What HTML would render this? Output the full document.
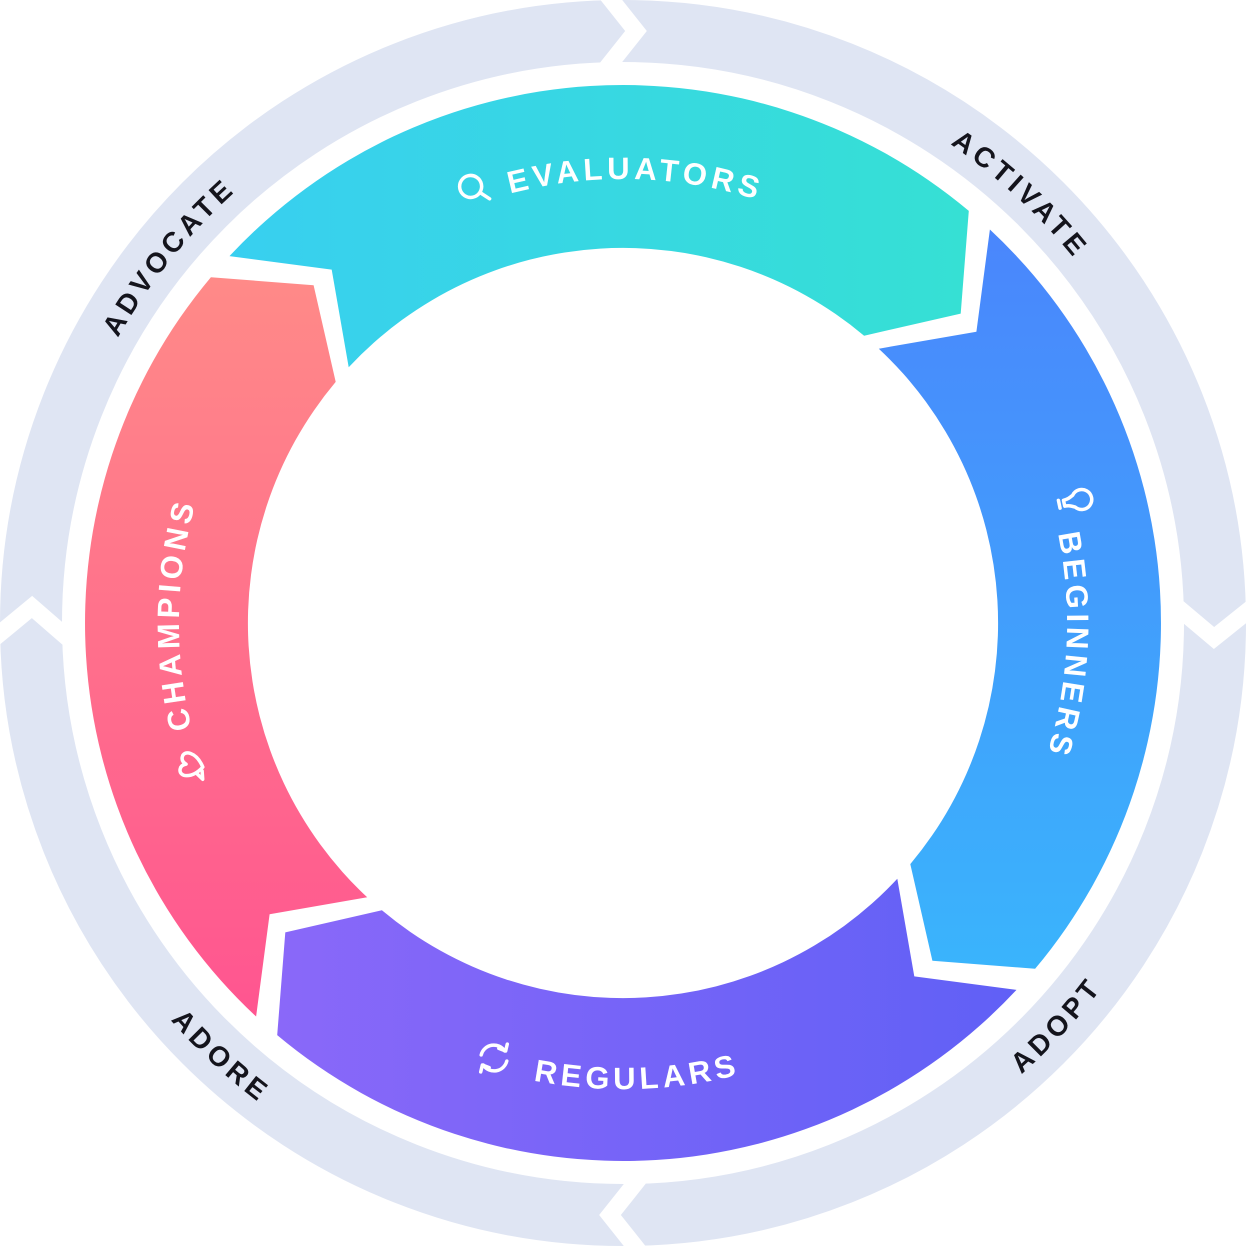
<!DOCTYPE html>
<html><head><meta charset="utf-8"><style>
html,body{margin:0;padding:0;background:#fff;}
svg{display:block;}
.rl{font-family:"Liberation Sans",sans-serif;font-weight:bold;font-size:28px;letter-spacing:4.5px;fill:#14141c;}
.il{font-family:"Liberation Sans",sans-serif;font-weight:bold;font-size:31px;letter-spacing:4.5px;fill:#fff;}
</style></head><body>
<svg width="1246" height="1246" viewBox="0 0 1246 1246" xmlns="http://www.w3.org/2000/svg">
<defs>
<linearGradient id="gE" x1="0" y1="0" x2="1" y2="0"><stop offset="0" stop-color="#38cff0"/><stop offset="1" stop-color="#36e0d4"/></linearGradient>
<linearGradient id="gB" x1="0" y1="0" x2="1" y2="0"><stop offset="0" stop-color="#4a86fc"/><stop offset="1" stop-color="#3ab4fc"/></linearGradient>
<linearGradient id="gR" x1="0" y1="0" x2="1" y2="0"><stop offset="0" stop-color="#6060f6"/><stop offset="1" stop-color="#8a68f9"/></linearGradient>
<linearGradient id="gC" x1="0" y1="0" x2="1" y2="0"><stop offset="0" stop-color="#ff5590"/><stop offset="1" stop-color="#ff8a88"/></linearGradient>
<path id="seg" d="M229.5,256.1 A538,538 0 0 1 968.8,210.9 L960.7,313.6 L864.1,335.7 A375,375 0 0 0 348.7,367.2 L331.7,269.6 Z"/>
<path id="cw583" d="M43,623 A580,580 0 1 1 1203,623 A580,580 0 1 1 43,623"/>
<path id="ccw600" d="M21,623 A602,602 0 1 0 1225,623 A602,602 0 1 0 21,623"/>
<path id="cw430" d="M179,623 A444,444 0 1 1 1067,623 A444,444 0 1 1 179,623"/>
<path id="cw430b" d="M1067,623 A444,444 0 1 1 179,623 A444,444 0 1 1 1067,623"/>
<path id="ccw462" d="M157,623 A466,466 0 1 0 1089,623 A466,466 0 1 0 157,623"/>
</defs>
<circle cx="623" cy="623" r="592" fill="none" stroke="#dfe5f3" stroke-width="62"/>
<g fill="none" stroke="#fff" stroke-width="17" stroke-linejoin="miter">
<polyline points="605,-8 636,31 605,70"/>
<polyline points="1176,606 1214,638 1254,606"/>
<polyline points="641,1254 610,1215 641,1176"/>
<polyline points="-8,640 32,607 70,640"/>
</g>
<use href="#seg" fill="url(#gE)"/>
<use href="#seg" fill="url(#gB)" transform="rotate(90 623 623)"/>
<use href="#seg" fill="url(#gR)" transform="rotate(180 623 623)"/>
<use href="#seg" fill="url(#gC)" transform="rotate(270 623 623)"/>

<text class="rl"><textPath href="#cw583" startOffset="36.9%" text-anchor="middle">ACTIVATE</textPath></text>
<text class="rl"><textPath href="#cw583" startOffset="10.8%" text-anchor="middle">ADVOCATE</textPath></text>
<text class="rl"><textPath href="#ccw600" startOffset="38.1%" text-anchor="middle">ADOPT</textPath></text>
<text class="rl"><textPath href="#ccw600" startOffset="13.1%" text-anchor="middle">ADORE</textPath></text>

<text class="il"><textPath href="#cw430" startOffset="25.45%" text-anchor="middle">EVALUATORS</textPath></text>
<text class="il"><textPath href="#cw430" startOffset="50.8%" text-anchor="middle">BEGINNERS</textPath></text>
<text class="il"><textPath href="#ccw462" startOffset="25.5%" text-anchor="middle">REGULARS</textPath></text>
<text class="il"><textPath href="#cw430b" startOffset="50.3%" text-anchor="middle">CHAMPIONS</textPath></text>

<g fill="none" stroke="#fff" stroke-width="3.5" stroke-linecap="round" stroke-linejoin="round">
<g transform="translate(473,188) rotate(-12)"><circle cx="-2" cy="-2" r="11"/><line x1="6" y1="6" x2="14" y2="14"/></g>
<g transform="translate(1070,502) rotate(78)"><path d="M-6,-4 A10,10 0 1 1 6,-4 C4,0 3,2 3,6 L-3,6 C-3,2 -4,0 -6,-4 Z"/><line x1="-4" y1="11" x2="4" y2="11"/></g>
<g transform="translate(494,1058) rotate(5)"><path d="M-13,-2 A13,13 0 0 1 10,-8"/><polyline points="4,-10 11,-8 12,-15"/><path d="M13,2 A13,13 0 0 1 -10,8"/><polyline points="-4,10 -11,8 -12,15"/></g>
<g transform="translate(191,765) rotate(-80)"><path d="M0,12 C-14,3 -14,-10 -6,-10 C-3,-10 -1,-8 0,-5 C1,-8 3,-10 6,-10 C14,-10 14,3 0,12 Z"/><path d="M-8,8 L-12,14 L-4,12"/></g>
</g>
</svg>
</body></html>
